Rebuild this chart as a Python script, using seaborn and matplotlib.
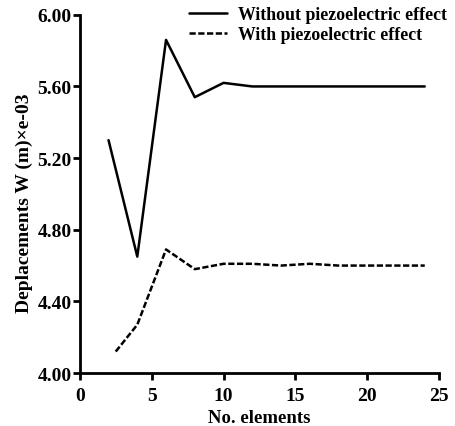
import matplotlib
matplotlib.use("Agg")
import matplotlib.pyplot as plt
import seaborn as sns
import pandas as pd

x_without = [2, 4, 6, 8, 10, 12, 14, 16, 18, 20, 22, 24]
y_without = [5.30, 4.65, 5.86, 5.54, 5.62, 5.60, 5.60, 5.60, 5.60, 5.60, 5.60, 5.60]
x_with = [2.5, 4, 6, 8, 10, 12, 14, 16, 18, 20, 22, 24]
y_with = [4.12, 4.27, 4.69, 4.58, 4.61, 4.61, 4.60, 4.61, 4.60, 4.60, 4.60, 4.60]
labels = ["Without piezoelectric effect", "With piezoelectric effect"]

sns.set_style("ticks")
plt.rcParams['font.family'] = ['Liberation Serif', 'DejaVu Serif']
plt.rcParams['font.weight'] = 'bold'
plt.rcParams['text.color'] = 'black'
plt.rcParams['axes.labelcolor'] = 'black'

df = pd.concat([
    pd.DataFrame({"x": x_without, "y": y_without, "s": labels[0]}),
    pd.DataFrame({"x": x_with, "y": y_with, "s": labels[1]}),
])

fig = plt.figure(figsize=(4.56, 4.27), dpi=100)
ax = fig.add_axes([0.175, 0.124, 0.788, 0.839])
sns.lineplot(data=df, x="x", y="y", hue="s", style="s",
             palette=["black", "black"], dashes=[(None, None), (2.5, 1)],
             linewidth=1.8, ax=ax, sort=False)
ax.set_xlim(0, 25)
ax.set_ylim(4.0, 6.0)
ax.set_xticks([0, 5, 10, 15, 20, 25])
ax.set_yticks([4.0, 4.4, 4.8, 5.2, 5.6, 6.0])
ax.set_yticklabels(["4.00", "4.40", "4.80", "5.20", "5.60", "6.00"])
for s in ["top", "right"]:
    ax.spines[s].set_visible(False)
for s in ["left", "bottom"]:
    ax.spines[s].set_linewidth(2)
    ax.spines[s].set_color("black")
ax.tick_params(axis="both", width=2, length=5, labelsize=14, colors="black", pad=1)
ax.tick_params(axis="x", pad=5)
for t in ax.get_xticklabels() + ax.get_yticklabels():
    t.set_fontweight("bold")
ax.set_xlabel("No. elements", fontsize=13.5, fontweight="bold")
ax.xaxis.set_label_coords(0.5, -0.1)
ax.xaxis.label.set_va("top")
ax.set_ylabel("Deplacements W (m)×e-03", fontsize=14, fontweight="bold")
ax.yaxis.set_label_coords(-0.153, 0.478)
ax.yaxis.label.set_va("center")
leg = ax.legend(loc="upper left", bbox_to_anchor=(0.285, 1.045), frameon=False,
                fontsize=12.8, handlelength=2.1, handletextpad=0.65, labelspacing=0.2,
                borderaxespad=0)
for t in leg.get_texts():
    t.set_fontweight("bold")
fig.savefig("out.png", dpi=100)
